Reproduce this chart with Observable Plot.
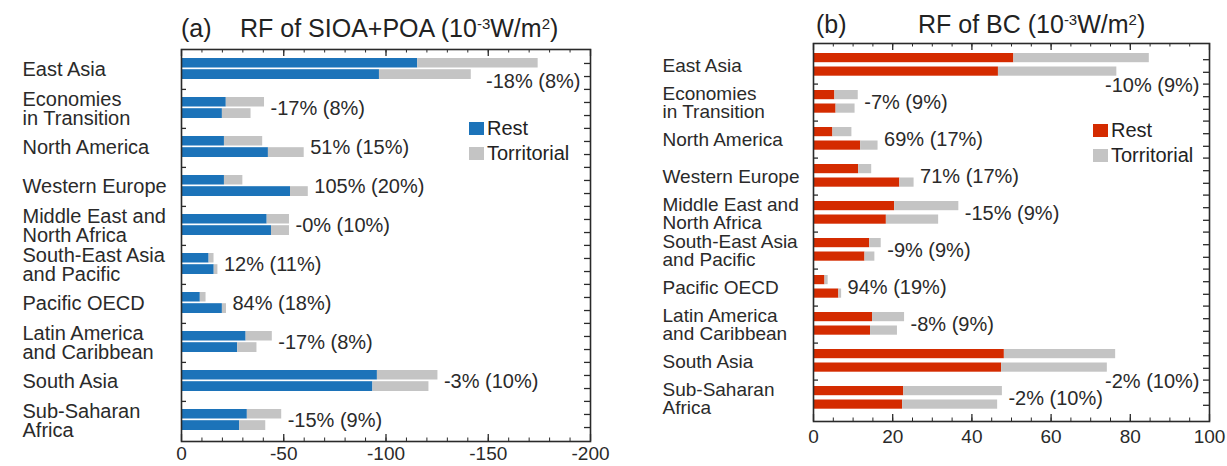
<!DOCTYPE html>
<html><head><meta charset="utf-8">
<script src="https://cdn.jsdelivr.net/npm/d3@7"></script>
<script src="https://cdn.jsdelivr.net/npm/@observablehq/plot@0.6"></script>
<style>
body{margin:0;background:#fff;font-family:"Liberation Sans",Arial,sans-serif;color:#222}
#wrap{position:relative;width:1227px;height:466px;overflow:hidden}
.panel{position:absolute;top:0}
.title{position:absolute;font-size:25px;line-height:25px;white-space:nowrap;color:#222}
.title sup{font-size:15px;line-height:0;vertical-align:0.55em}
.legend{position:absolute;font-size:20px;color:#222}
.legend .row{display:flex;align-items:center;height:25px;white-space:nowrap}
.legend .sw{width:15px;height:13px;margin-right:3px}
</style></head><body>
<div id="wrap"></div>
<script>
const regions = ["East Asia","Economies\nin Transition","North America","Western Europe","Middle East and\nNorth Africa","South-East Asia\nand Pacific","Pacific OECD","Latin America\nand Caribbean","South Asia","Sub-Saharan\nAfrica"];
const seriesNames = ["Rest","Territorial"];
const legendLabels = ["Rest","Torritorial"];

// (a) RF of SIOA+POA (10^-3 W/m2): top bar and bottom bar per region
const sioaRestTop    = [-115.5,-21.9,-21.0,-21.0,-41.9,-13.5,-9.2,-31.6,-95.8,-32.2];
const sioaTerrTop    = [-58.9,-18.7,-18.7,-9.0,-10.9,-2.4,-2.8,-12.8,-29.6,-16.8];
const sioaRestBottom = [-96.8,-20.0,-42.5,-53.3,-44.0,-16.0,-20.0,-27.5,-93.6,-28.5];
const sioaTerrBottom = [-44.9,-14.0,-17.5,-8.7,-8.8,-1.8,-2.0,-9.4,-27.4,-12.7];
const sioaLabels = ["-18% (8%)","-17% (8%)","51% (15%)","105% (20%)","-0% (10%)","12% (11%)","84% (18%)","-17% (8%)","-3% (10%)","-15% (9%)"];
const sioaTicks = [0,-50,-100,-150,-200];
const sioaMinorTicks = [0,-10,-20,-30,-40,-50,-60,-70,-80,-90,-100,-110,-120,-130,-140,-150,-160,-170,-180,-190,-200];

// (b) RF of BC (10^-3 W/m2)
const bcRestTop    = [50.6,5.4,4.9,11.4,20.5,14.2,2.9,14.9,48.2,22.8];
const bcTerrTop    = [34.2,5.9,4.8,3.3,16.2,2.9,0.8,8.1,28.1,24.9];
const bcRestBottom = [46.7,5.7,11.9,21.8,18.4,13.0,6.4,14.4,47.5,22.5];
const bcTerrBottom = [29.9,4.8,4.4,3.6,13.2,2.5,0.7,6.8,26.7,24.0];
const bcLabels = ["-10% (9%)","-7% (9%)","69% (17%)","71% (17%)","-15% (9%)","-9% (9%)","94% (19%)","-8% (9%)","-2% (10%)","-2% (10%)"];
const bcTicks = [0,20,40,60,80,100];
const bcMinorTicks = [0,5,10,15,20,25,30,35,40,45,50,55,60,65,70,75,80,85,90,95,100];

const INK = "#2a2a2a";
const GRAY = "#c4c4c4";

function panel(cfg) {
  const {width, marginLeft, marginRight, marginTop, marginBottom, domain, color,
         restTop, terrTop, restBottom, terrBottom, labels, ticks, minor,
         labelX, labelSize, bar1, bar2, overflowDy, tickPadding} = cfg;
  const height = 466;
  const frameH = height - marginTop - marginBottom;
  const frameW = width - marginLeft - marginRight;
  const bw = frameH / regions.length;
  const long = (rest, terr) => regions.flatMap((r, i) => [
    {region: r, series: "Rest", value: rest[i]},
    {region: r, series: "Territorial", value: terr[i]}
  ]);
  const topRows = long(restTop, terrTop);
  const bottomRows = long(restBottom, terrBottom);
  const unitsPerPx = Math.abs(domain[1] - domain[0]) / frameW;
  const ann = regions.map((r, i) => {
    const t1 = restTop[i] + terrTop[i], t2 = restBottom[i] + terrBottom[i];
    const far = Math.abs(t1) >= Math.abs(t2) ? t1 : t2;
    const need = Math.abs(far) + (6 + labels[i].length * 10.5) * unitsPerPx;
    return {region: r, x: far, label: labels[i], overflow: need > Math.abs(domain[1])};
  });
  const edge = domain[1];
  return Plot.plot({
    width, height, marginLeft, marginRight, marginTop, marginBottom,
    style: {fontFamily: "'Liberation Sans', Arial, sans-serif", fontSize: "20px", color: INK, background: "transparent", overflow: "visible"},
    x: {domain, axis: null},
    y: {type: "band", domain: regions, padding: 0, axis: null},
    color: {domain: seriesNames, range: [color, GRAY]},
    marks: [
      Plot.barX(topRows, {x: "value", y: "region", fill: "series", insetTop: bar1[0], insetBottom: bar1[1]}),
      Plot.barX(bottomRows, {x: "value", y: "region", fill: "series", insetTop: bar2[0], insetBottom: bar2[1]}),
      Plot.frame({stroke: INK, strokeWidth: 1.6}),
      Plot.ruleX(minor, {stroke: INK, insetBottom: frameH - 3.5}),
      Plot.ruleX(minor, {stroke: INK, insetTop: frameH - 3.5}),
      Plot.ruleX(ticks, {stroke: INK, strokeWidth: 1.3, insetBottom: frameH - 7}),
      Plot.ruleX(ticks, {stroke: INK, strokeWidth: 1.3, insetTop: frameH - 7}),
      Plot.ruleY(regions.slice(1), {stroke: INK, strokeWidth: 1.3, dy: -bw / 2, insetRight: frameW - 5}),
      Plot.ruleY(regions.slice(1), {stroke: INK, strokeWidth: 1.3, dy: -bw / 2, insetLeft: frameW - 6}),
      Plot.ruleY(regions, {stroke: INK, strokeWidth: 1.3, dy: -bw / 6, insetLeft: frameW - 6}),
      Plot.ruleY(regions, {stroke: INK, strokeWidth: 1.3, dy: bw / 6, insetLeft: frameW - 6}),
      Plot.axisX(ticks, {anchor: "bottom", tickSize: 0, tickPadding, tickFormat: d => String(d), fontSize: 19, label: null, fill: INK}),
      Plot.text(regions, {y: d => d, text: d => d, frameAnchor: "left", textAnchor: "start", dx: labelX - marginLeft, fontSize: labelSize, lineHeight: 0.95, fill: INK}),
      Plot.text(ann.filter(d => !d.overflow), {x: "x", y: "region", text: "label", textAnchor: "start", dx: 6, fontSize: 20, fill: INK}),
      Plot.text(ann.filter(d => d.overflow), {x: () => edge, y: "region", text: "label", textAnchor: "end", dx: -10, dy: overflowDy, fontSize: 20, fill: INK})
    ]
  });
}

const wrap = document.getElementById("wrap");

const a = panel({
  width: 600, marginLeft: 181, marginRight: 10, marginTop: 49, marginBottom: 25,
  domain: [0, -200], color: "#1c73b9",
  restTop: sioaRestTop, terrTop: sioaTerrTop, restBottom: sioaRestBottom, terrBottom: sioaTerrBottom,
  labels: sioaLabels, ticks: sioaTicks, minor: sioaMinorTicks,
  labelX: 22, labelSize: 20, bar1: [8, 21.5], bar2: [19.2, 10], overflowDy: 12, tickPadding: 5
});
a.classList.add("panel"); a.style.left = "0px";
wrap.appendChild(a);

const b = panel({
  width: 627, marginLeft: 213, marginRight: 18, marginTop: 43, marginBottom: 45,
  domain: [0, 100], color: "#d42b00",
  restTop: bcRestTop, terrTop: bcTerrTop, restBottom: bcRestBottom, terrBottom: bcTerrBottom,
  labels: bcLabels, ticks: bcTicks, minor: bcMinorTicks,
  labelX: 62, labelSize: 19, bar1: [6, 21.8], bar2: [19.5, 8.3], overflowDy: 20, tickPadding: 8
});
b.classList.add("panel"); b.style.left = "600px";
wrap.appendChild(b);

function addTitle(tag, main, tagLeft, mainLeft, top) {
  const t1 = document.createElement("div");
  t1.className = "title"; t1.style.left = tagLeft + "px"; t1.style.top = top + "px"; t1.textContent = tag;
  const t2 = document.createElement("div");
  t2.className = "title"; t2.style.left = mainLeft + "px"; t2.style.top = top + "px"; t2.innerHTML = main;
  wrap.appendChild(t1); wrap.appendChild(t2);
}
addTitle("(a)", "RF of SIOA+POA (10<sup>-3</sup>W/m<sup>2</sup>)", 181, 240, 16);
addTitle("(b)", "RF of BC (10<sup>-3</sup>W/m<sup>2</sup>)", 816, 918, 12);

function addLegend(left, top, color) {
  const lg = document.createElement("div");
  lg.className = "legend"; lg.style.left = left + "px"; lg.style.top = top + "px";
  [color, GRAY].forEach((c, i) => {
    const row = document.createElement("div"); row.className = "row";
    const sw = document.createElement("span"); sw.className = "sw"; sw.style.background = c;
    const tx = document.createElement("span"); tx.textContent = legendLabels[i];
    row.appendChild(sw); row.appendChild(tx); lg.appendChild(row);
  });
  wrap.appendChild(lg);
}
addLegend(469, 116, "#1c73b9");
addLegend(1093, 118, "#d42b00");
</script>
</body></html>
